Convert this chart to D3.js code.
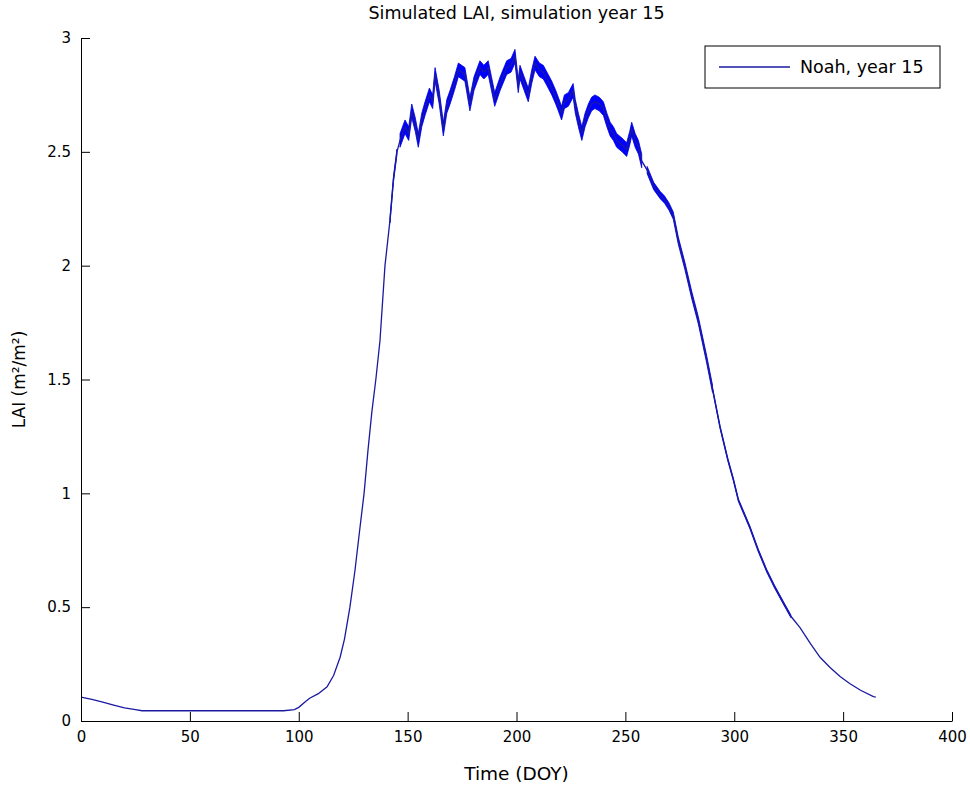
<!DOCTYPE html>
<html>
<head>
<meta charset="utf-8">
<script src="https://cdn.jsdelivr.net/npm/d3@7"></script>
<style>
  body { margin: 0; background: #fff; }
  text { font-family: "DejaVu Sans", sans-serif; fill: #000; }
</style>
</head>
<body>
<div id="chart"></div>
<script>
// day of year and simulated LAI
const doy = [0, 5, 10, 15, 20, 25, 28,
  50, 70, 93, 98, 100, 103, 105, 109, 113, 116, 119, 121,
  123.5, 125.8, 128, 130, 131.8, 133.6, 135.4, 137.3, 139.6, 141.9, 143.5, 145.1,
  146.5, 148.8, 150.5, 151.9, 153.5, 154.9, 156.5, 158, 160, 161.5, 162.6, 164.5,
  166.4, 168, 169.5, 171.5, 173.3, 176.3, 178.6, 180.5, 183.2, 185, 187, 188.5,
  190, 192.5, 195.5, 197.5, 199.3, 200.8, 201.6, 203.5, 205.4, 207, 208.5, 210.5,
  212.3, 214, 216.2, 218, 219.2, 220.7, 222, 223.8, 226, 227, 228.4, 230,
  231.5, 233, 234.5, 236, 238, 239.9, 241.5, 243, 244.5, 246, 248.5, 250.6,
  252, 252.9, 254.5, 256, 257.5, 260, 263, 266, 268, 270, 272, 274.3,
  277.3, 280.5, 283.5, 287.3, 290, 293.5, 297, 299.6, 301.9, 305, 307.2, 311,
  314.9, 318.5, 322.5, 326, 330.2, 335, 339.4, 344, 348.6, 353, 358, 363.9, 365];

const lai = [0.105, 0.095, 0.083, 0.07, 0.058, 0.05, 0.045,
  0.045, 0.045, 0.045, 0.05, 0.06, 0.085, 0.1, 0.12, 0.15, 0.2, 0.28, 0.36,
  0.5, 0.66, 0.84, 1.0, 1.19, 1.36, 1.5, 1.67, 2.0, 2.2, 2.38, 2.5,
  2.55, 2.61, 2.58, 2.68, 2.62, 2.55, 2.64, 2.69, 2.75, 2.72, 2.84, 2.74,
  2.6, 2.7, 2.74, 2.8, 2.86, 2.84, 2.71, 2.8, 2.87, 2.85, 2.87, 2.8,
  2.73, 2.8, 2.87, 2.88, 2.92, 2.79, 2.85, 2.8, 2.75, 2.83, 2.89, 2.86,
  2.85, 2.82, 2.78, 2.74, 2.71, 2.67, 2.72, 2.73, 2.77, 2.7, 2.64, 2.58,
  2.64, 2.68, 2.71, 2.72, 2.71, 2.69, 2.64, 2.6, 2.58, 2.55, 2.53, 2.51,
  2.56, 2.6, 2.55, 2.52, 2.46, 2.42, 2.35, 2.31, 2.29, 2.26, 2.22, 2.11,
  2.0, 1.87, 1.76, 1.59, 1.46, 1.29, 1.15, 1.06, 0.97, 0.9, 0.85, 0.75,
  0.66, 0.59, 0.52, 0.46, 0.41, 0.34, 0.28, 0.235, 0.195, 0.165, 0.135, 0.107, 0.105];

// half-width of the sub-daily wiggle, per stretch of days
const noiseFrom = [141, 146, 258, 290];
const noiseTo = [146, 258, 290, 330];
const noiseAmp = [0.012, 0.03, 0.016, 0.006];

const xTicks = [0, 50, 100, 150, 200, 250, 300, 350, 400];
const yTicks = [0, 0.5, 1, 1.5, 2, 2.5, 3];

const width = 970, height = 787;
const margin = {top: 38, right: 18, bottom: 66, left: 81};

const data = doy.map((d, i) => ({doy: d, lai: lai[i]}));

const svg = d3.select('#chart')
  .append('svg')
  .attr('width', width)
  .attr('height', height);

const x = d3.scaleLinear()
  .domain([0, 400])
  .range([margin.left, width - margin.right]);

const y = d3.scaleLinear()
  .domain([0, 3])
  .range([height - margin.bottom, margin.top]);

// wiggle bands
noiseFrom.forEach((f, k) => {
  const seg = data.filter(d => d.doy >= f && d.doy <= noiseTo[k]);
  svg.append('path')
    .datum(seg)
    .attr('fill', '#0000ff')
    .attr('stroke', '#0000d8')
    .attr('stroke-width', 0.8)
    .attr('d', d3.area()
      .x(d => x(d.doy))
      .y0(d => y(d.lai - noiseAmp[k]))
      .y1(d => y(d.lai + noiseAmp[k])));
});

svg.append('path')
  .datum(data)
  .attr('fill', 'none')
  .attr('stroke', '#1a1aa0')
  .attr('stroke-width', 1.3)
  .attr('d', d3.line().x(d => x(d.doy)).y(d => y(d.lai)));

// axes, ticks pointing inward like matlab
const xAxis = svg.append('g')
  .attr('transform', `translate(0,${height - margin.bottom})`)
  .call(d3.axisBottom(x).tickValues(xTicks).tickFormat(d3.format('d'))
    .tickSizeInner(-9).tickSizeOuter(0).tickPadding(10));

const yAxis = svg.append('g')
  .attr('transform', `translate(${margin.left},0)`)
  .call(d3.axisLeft(y).tickValues(yTicks).tickFormat(d => String(d))
    .tickSizeInner(-9).tickSizeOuter(0).tickPadding(10));

[xAxis, yAxis].forEach(g => {
  g.selectAll('text').style('font-size', '15px').style('font-family', '"DejaVu Sans", sans-serif');
  g.selectAll('line, path').attr('stroke', '#000');
});

svg.append('text')
  .attr('x', x(200))
  .attr('y', 19)
  .attr('text-anchor', 'middle')
  .style('font-size', '17.5px')
  .text('Simulated LAI, simulation year 15');

svg.append('text')
  .attr('x', x(200))
  .attr('y', 780)
  .attr('text-anchor', 'middle')
  .style('font-size', '18.5px')
  .text('Time (DOY)');

svg.append('text')
  .attr('transform', `translate(25,${(margin.top + height - margin.bottom) / 2}) rotate(-90)`)
  .attr('text-anchor', 'middle')
  .style('font-size', '17px')
  .text('LAI (m²/m²)');

// legend
const lg = svg.append('g').attr('transform', 'translate(705,46)');
lg.append('rect')
  .attr('width', 235)
  .attr('height', 42)
  .attr('fill', '#fff')
  .attr('stroke', '#000');
lg.append('line')
  .attr('x1', 14).attr('x2', 85)
  .attr('y1', 21).attr('y2', 21)
  .attr('stroke', '#1a1aa0')
  .attr('stroke-width', 1.3);
lg.append('text')
  .attr('x', 95)
  .attr('y', 27)
  .style('font-size', '17.5px')
  .text('Noah, year 15');
</script>
</body>
</html>
